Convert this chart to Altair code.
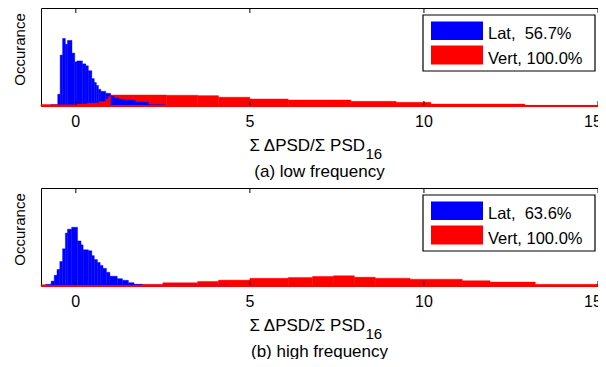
import altair as alt
import pandas as pd

FONT = "Liberation Sans"
BLUE = "#0000ff"
RED = "#ff0000"
W, H = 557, 98
XMIN, XMAX = -1, 15

tick_values = [0, 5, 10, 15]
tick_labels = ["0", "5", "10", "15"]

# (a) low frequency
lat_low_edges = [-0.71, -0.52, -0.45, -0.38, -0.30, -0.24, -0.11, -0.03, 0.03, 0.19, 0.29, 0.36, 0.46,
                 0.53, 0.59, 0.65, 0.72, 0.86, 1.00, 1.10, 1.24, 1.43, 1.71, 2.09, 2.57]
lat_low_h = [0.014, 0.12, 0.52, 0.69, 0.63, 0.67, 0.54, 0.45, 0.46, 0.43, 0.41, 0.36, 0.28, 0.24,
             0.21, 0.17, 0.15, 0.13, 0.10, 0.08, 0.07, 0.06, 0.04, 0.014]
vert_low_edges = [-1.0, 0.03, 0.33, 0.67, 0.86, 0.94, 1.0, 2.6, 3.5, 4.1, 5.0, 6.1, 7.9, 9.2, 10.2, 12.9, 15.0]
vert_low_h = [0.012, 0.02, 0.03, 0.045, 0.07, 0.1, 0.113, 0.11, 0.106, 0.09, 0.072, 0.062, 0.048,
              0.038, 0.02, 0.007]

# (b) high frequency
lat_high_edges = [-0.86, -0.71, -0.62, -0.54, -0.46, -0.38, -0.30, -0.24, -0.12, 0.05, 0.15, 0.21, 0.36,
                  0.46, 0.53, 0.62, 0.70, 0.78, 0.88, 0.98, 1.19, 1.34, 1.51, 1.67, 1.91, 4.38]
lat_high_h = [0.017, 0.05, 0.11, 0.17, 0.25, 0.38, 0.54, 0.58, 0.60, 0.46, 0.42, 0.37, 0.36, 0.31,
              0.27, 0.24, 0.21, 0.18, 0.14, 0.10, 0.075, 0.058, 0.034, 0.017, 0.008]
vert_high_edges = [-1.0, 1.0, 2.5, 3.5, 4.1, 5.0, 6.1, 6.8, 7.4, 8.0, 8.6, 9.6, 11.1, 11.9, 13.2, 15.0]
vert_high_h = [0.014, 0.017, 0.034, 0.047, 0.06, 0.078, 0.088, 0.098, 0.105, 0.09, 0.08, 0.07,
               0.054, 0.04, 0.017]

legend_low = ["Lat, \u00a056.7%", "Vert, 100.0%"]
legend_high = ["Lat, \u00a063.6%", "Vert, 100.0%"]
captions = ["(a) low frequency", "(b) high frequency"]
xlabel_main = "\u03a3 \u0394PSD/\u03a3 PSD"
xlabel_sub = "16"
ylabel = "Occurance"

xscale = alt.Scale(domain=[XMIN, XMAX], nice=False, zero=False)
yscale = alt.Scale(domain=[0, 1], nice=False, zero=True)


def segs(edges, heights):
    return pd.DataFrame({"x0": edges[:-1], "x1": edges[1:], "h": heights, "base": 0.0})


def bars(df, color):
    return alt.Chart(df).mark_rect(fill=color, stroke=color, strokeWidth=0.4).encode(
        x=alt.X("x0:Q", scale=xscale, axis=None),
        x2="x1:Q",
        y=alt.Y("h:Q", scale=yscale, axis=None),
        y2="base:Q",
    )


def one(text):
    return alt.Chart(pd.DataFrame({"s": [text]}))


def panel(lat_df, vert_df, legend_texts, caption, red_front_until=None):
    layers = [bars(vert_df, RED), bars(lat_df, BLUE)]
    if red_front_until is not None:
        layers.append(bars(vert_df[vert_df["x1"] <= red_front_until], RED))

    ticks = pd.DataFrame({"t": tick_values, "label": tick_labels})
    base_t = alt.Chart(ticks)
    layers.append(base_t.mark_rule(color="black", strokeWidth=1).encode(
        x=alt.X("t:Q", scale=xscale, axis=None), y=alt.value(0), y2=alt.value(5)))
    layers.append(base_t.mark_rule(color="black", strokeWidth=1).encode(
        x=alt.X("t:Q", scale=xscale, axis=None), y=alt.value(H - 5), y2=alt.value(H)))
    # red baseline
    layers.append(one("b").mark_rule(color=RED, strokeWidth=2).encode(
        x=alt.value(0), x2=alt.value(W), y=alt.value(H)))
    # tick labels (the last one sits at the page edge and is nudged in a little)
    layers.append(alt.Chart(ticks.iloc[:-1]).mark_text(
        font=FONT, fontSize=16, align="center", baseline="alphabetic", color="black").encode(
        x=alt.X("t:Q", scale=xscale, axis=None), y=alt.value(H + 21.3), text="label:N"))
    layers.append(alt.Chart(ticks.iloc[-1:]).mark_text(
        font=FONT, fontSize=16, align="center", baseline="alphabetic", color="black", dx=-5).encode(
        x=alt.X("t:Q", scale=xscale, axis=None), y=alt.value(H + 21.3), text="label:N"))
    # x label with subscript
    layers.append(one(xlabel_main).mark_text(font=FONT, fontSize=17, align="right",
                                             baseline="alphabetic", color="black").encode(
        x=alt.value(324), y=alt.value(H + 44.5), text="s:N"))
    layers.append(one(xlabel_sub).mark_text(font=FONT, fontSize=15, align="left",
                                            baseline="alphabetic", color="black").encode(
        x=alt.value(324.5), y=alt.value(H + 53), text="s:N"))
    # caption
    layers.append(one(caption).mark_text(font=FONT, fontSize=17, align="center",
                                         baseline="alphabetic", color="black").encode(
        x=alt.value(W / 2), y=alt.value(H + 70.5), text="s:N"))
    # y label
    layers.append(one(ylabel).mark_text(font=FONT, fontSize=15, align="center", angle=270,
                                        baseline="alphabetic", color="black").encode(
        x=alt.value(-16.5), y=alt.value(41.5), text="s:N"))
    # legend box
    layers.append(one("L").mark_rect(fill="white", stroke="black", strokeWidth=1.2).encode(
        x=alt.value(382), x2=alt.value(554), y=alt.value(7), y2=alt.value(63)))
    layers.append(one("L").mark_rect(fill=BLUE).encode(
        x=alt.value(390), x2=alt.value(442), y=alt.value(13.5), y2=alt.value(32)))
    layers.append(one("L").mark_rect(fill=RED).encode(
        x=alt.value(390), x2=alt.value(442), y=alt.value(37.5), y2=alt.value(56.5)))
    layers.append(one(legend_texts[0]).mark_text(font=FONT, fontSize=16.5, align="left",
                                                 baseline="alphabetic", color="black").encode(
        x=alt.value(447), y=alt.value(31.3), text="s:N"))
    layers.append(one(legend_texts[1]).mark_text(font=FONT, fontSize=16.5, align="left",
                                                 baseline="alphabetic", color="black").encode(
        x=alt.value(447), y=alt.value(55.7), text="s:N"))
    return alt.layer(*layers).properties(width=W, height=H)


p1 = panel(segs(lat_low_edges, lat_low_h), segs(vert_low_edges, vert_low_h), legend_low, captions[0],
           red_front_until=1.0)
p2 = panel(segs(lat_high_edges, lat_high_h), segs(vert_high_edges, vert_high_h), legend_high, captions[1])

# With autosize "none" the page is 33 + W wide and padding-only tall: 590 x 351 (fits 606 x 367 with margins)
chart = alt.vconcat(p1, p2, spacing=82, bounds="flush").properties(
    autosize=alt.AutoSizeParams(type="none"),
    padding={"left": 33, "top": 0, "right": 0, "bottom": 351},
    background="white",
).configure_view(stroke="black", strokeWidth=1)

chart.save("out.html", embed_options={"renderer": "svg", "actions": False})
